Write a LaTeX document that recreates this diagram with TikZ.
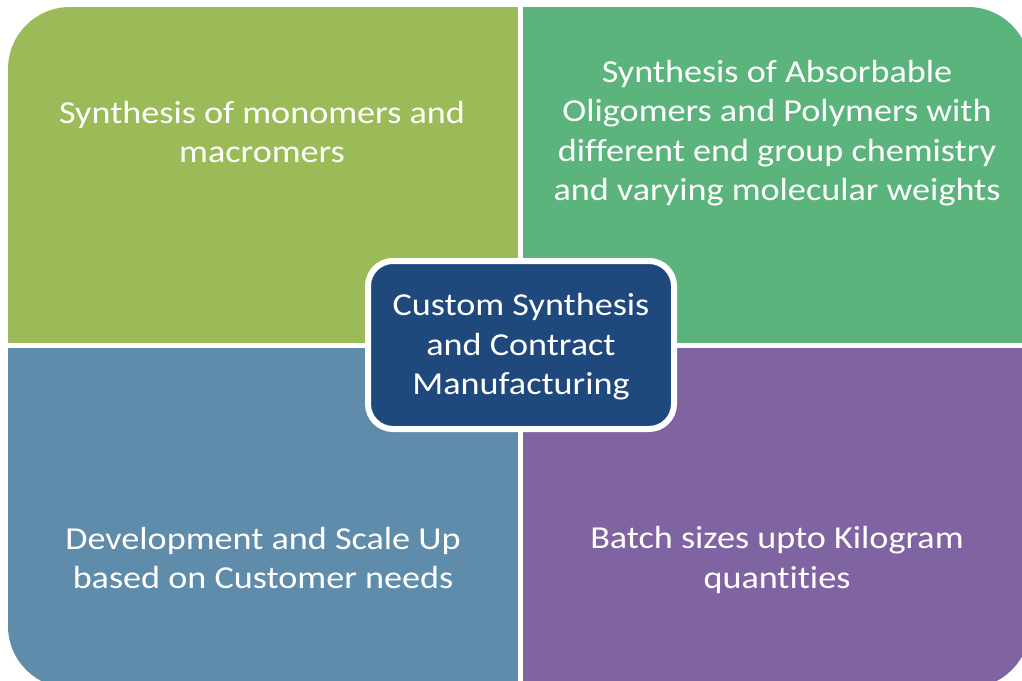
\documentclass[tikz,border=0pt]{standalone}
\usepackage{fontspec}
\setmainfont{Carlito}[FakeStretch=1.13, Ligatures=NoCommon]
\usepackage{tikz}

\definecolor{olivegreen}{HTML}{9BBB59}
\definecolor{seagreen}{HTML}{5CB47D}
\definecolor{steelblue}{HTML}{5F8CAB}
\definecolor{lavender}{HTML}{8064A2}
\definecolor{navyblue}{HTML}{1F497D}

\tikzset{
  quadtext/.style={text=white, align=center, inner sep=0pt,
    font=\fontsize{32}{39.5}\selectfont},
  hubbox/.style={draw=white, line width=6pt, fill=navyblue, rounded corners=25pt,
    minimum width=306pt, minimum height=168pt, text=white, align=center,
    font=\fontsize{32}{39.5}\selectfont}
}

\begin{document}
\begin{tikzpicture}[x=1pt, y=-1pt]
    \useasboundingbox (0, 0) rectangle (1022, 680);

    \begin{scope}
        \clip[rounded corners=62pt] (8, 7) rectangle (1030, 688);
        \fill[olivegreen] (8, 7) rectangle (518, 343);
        \fill[seagreen] (523, 7) rectangle (1030, 343);
        \fill[steelblue] (8, 348) rectangle (518, 688);
        \fill[lavender] (523, 348) rectangle (1030, 688);
    \end{scope}

    \node[quadtext] (tl) at (262, 132) {Synthesis of monomers and\\macromers};
    \node[quadtext] (tr) at (777, 133) {Synthesis of Absorbable\\Oligomers and Polymers with\\different end group chemistry\\and varying molecular weights};
    \node[quadtext] (bl) at (263, 558) {Development and Scale Up\\based on Customer needs};
    \node[quadtext] (br) at (777, 560) {Batch sizes upto Kilogram\\quantities};

    \node[hubbox] (hub) at (521, 345) {};
    \node[quadtext] (hubtext) at (521, 347) {Custom Synthesis\\and Contract\\Manufacturing};
\end{tikzpicture}
\end{document}
